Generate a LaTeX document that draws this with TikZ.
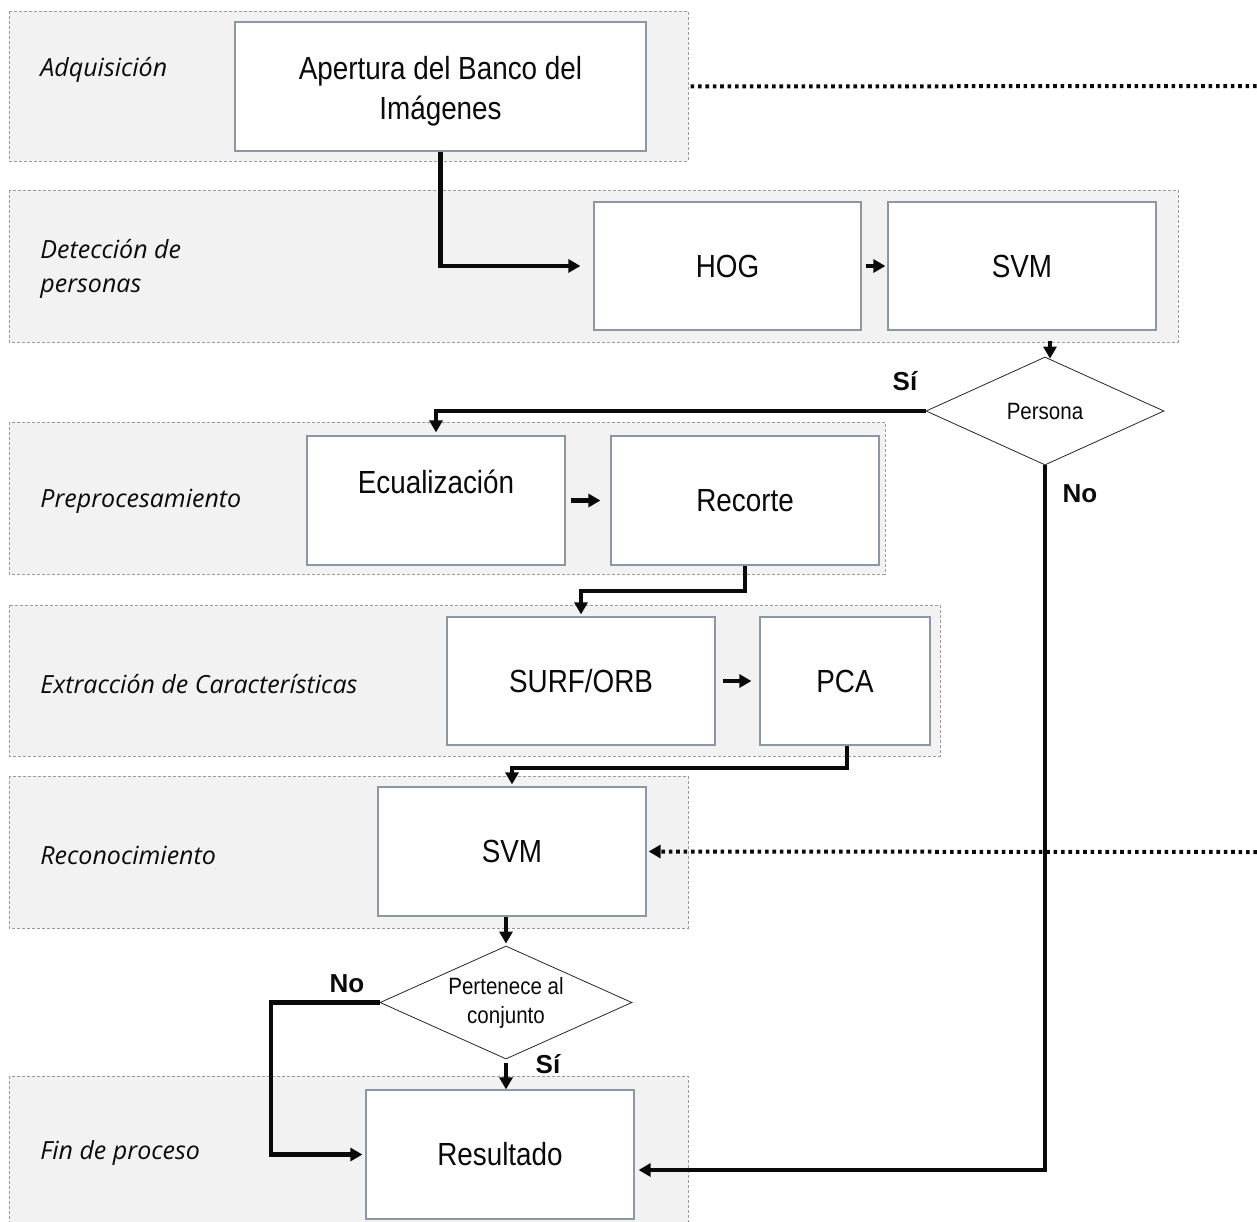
\documentclass[tikz,border=0pt]{standalone}
\usepackage{fontspec}
\setmainfont{Liberation Sans}
\newfontfamily\narrowfont{Liberation Sans}[FakeStretch=0.87]
\newfontfamily\lanefont{Open Sans}
\usetikzlibrary{arrows.meta,shapes.geometric,calc}
\definecolor{lanefill}{HTML}{F2F2F2}
\definecolor{lanedraw}{HTML}{9A9A9A}
\definecolor{boxdraw}{HTML}{8C96A5}
\definecolor{inkcol}{HTML}{0A0A0A}
\begin{document}
\begin{tikzpicture}[x=0.5pt,y=-0.5pt,
  lane/.style={fill=lanefill, draw=lanedraw, line width=0.4pt, dash pattern=on 1.5pt off 1pt},
  procbox/.style={draw=boxdraw, fill=white, line width=0.6pt, text=inkcol,
     font=\narrowfont\fontsize{16}{20}\selectfont, align=center, inner sep=0pt},
  boxtext/.style={text=inkcol, font=\narrowfont\fontsize{16}{20}\selectfont, align=center, inner sep=0pt},
  decision/.style={diamond, draw=black!85, fill=white, line width=0.4pt, text=inkcol,
     font=\narrowfont\fontsize{11.8}{14.5}\selectfont, align=center, inner sep=0pt, shape aspect=2.2},
  lanelabel/.style={anchor=west, text=inkcol, font=\lanefont\itshape\fontsize{12.5}{17}\selectfont,
     align=left, inner sep=0pt},
  answer/.style={text=inkcol, font=\bfseries\fontsize{13}{15}\selectfont, inner sep=0pt},
  conn/.style={line width=2.1pt, draw=inkcol},
  flow/.style={conn, -{Triangle[length=6pt,width=6.5pt]}},
  dotflow/.style={line width=2pt, draw=inkcol, dash pattern=on 1.8pt off 1.9pt}
]
\useasboundingbox (0,0) rectangle (1257,1221);

% lanes
\draw[lane] (9,11) rectangle (688,161);
\draw[lane] (9,190) rectangle (1178,342);
\draw[lane] (9,422) rectangle (885,574);
\draw[lane] (9,605) rectangle (940,756);
\draw[lane] (9,776) rectangle (688,928);
\draw[lane] (9,1076) rectangle (688,1240);

% lane labels
\node[lanelabel] (lab1) at (40,70) {Adquisición};
\node[lanelabel] (lab2) at (40,269) {Detección de\\personas};
\node[lanelabel] (lab3) at (40,501) {Preprocesamiento};
\node[lanelabel] (lab4) at (40,684) {Extracción de Características};
\node[lanelabel] (lab5) at (40,855) {Reconocimiento};
\node[lanelabel] (lab6) at (40,1153) {Fin de proceso};

% process boxes
\node[procbox, minimum width=205.5pt, minimum height=64.5pt] (apertura) at (440.5,86.5) {};
\node[boxtext] (aperturatxt) at (440.5,91) {Apertura del Banco del\\Imágenes};
\node[procbox, minimum width=133.5pt, minimum height=64pt] (hog) at (727.5,266) {HOG};
\node[procbox, minimum width=134pt, minimum height=64pt] (svmA) at (1022,266) {SVM};
\node[procbox, minimum width=129pt, minimum height=64.5pt] (ecual) at (436,500.5) {};
\node[boxtext] (ecualtxt) at (436,482) {Ecualización};
\node[procbox, minimum width=134pt, minimum height=64.5pt] (recorte) at (745,500.5) {Recorte};
\node[procbox, minimum width=134pt, minimum height=64pt] (surf) at (581,681) {SURF/ORB};
\node[procbox, minimum width=85pt, minimum height=64pt] (pca) at (845,681) {PCA};
\node[procbox, minimum width=134pt, minimum height=64.5pt] (svmB) at (512,851.5) {SVM};
\node[procbox, minimum width=134pt, minimum height=64.5pt] (result) at (500,1154.5) {Resultado};

% decisions
\node[decision, minimum width=119pt, minimum height=54pt] (persona) at (1045,411) {Persona};
\node[decision, minimum width=126pt, minimum height=56.5pt] (pert) at (506,1002.5) {Pertenece al\\conjunto};

% free ends
\coordinate (edgeA) at (1257,86);
\coordinate (edgeB) at (1257,852);

% connectors
\draw[flow, shorten >=6.5pt] (apertura.south) |- (hog.west);
\draw[flow, shorten <=2pt, shorten >=1pt] (hog.east) -- (svmA.west);
\draw[flow, shorten <=5pt] ($(persona.north |- svmA.south)+(5,0)$) -- ($(persona.north)+(5,2)$);
\draw[flow, shorten >=1.5pt] (persona.west) -| (ecual.north);
\draw[flow, shorten >=2pt] (persona.south) |- ($(result.east)+(0,15.5)$);
\draw[flow, shorten <=2.5pt, shorten >=5pt] (ecual.east) -- (recorte.west);
\draw[flow, shorten >=1pt] (recorte.south) -- ++(0,25) -| (surf.north);
\draw[flow, shorten <=3.5pt, shorten >=4pt] (surf.east) -- (pca.west);
\draw[flow, shorten >=1pt] ($(pca.south)+(2,0)$) -- ++(0,22) -| (svmB.north);
\draw[flow, shorten >=1pt] (pert.north |- svmB.south) -- (pert.north);
\draw[flow, shorten >=1.5pt] (pert.west) -- ++(-109,0) |- (result.west);
\draw[flow, shorten <=2pt] (pert.south) -- (pert.south |- result.north);
\draw[dotflow, shorten <=22pt] (apertura.east) -- (edgeA);
\draw[dotflow, -{Triangle[length=6pt,width=6.5pt]}, shorten >=1pt] (edgeB) -- (svmB.east);

% answer labels
\node[answer] (si1) at (905,381) {Sí};
\node[answer] (no1) at (1080,494) {No};
\node[answer] (no2) at (347,984) {No};
\node[answer] (si2) at (548,1064) {Sí};
\end{tikzpicture}
\end{document}
